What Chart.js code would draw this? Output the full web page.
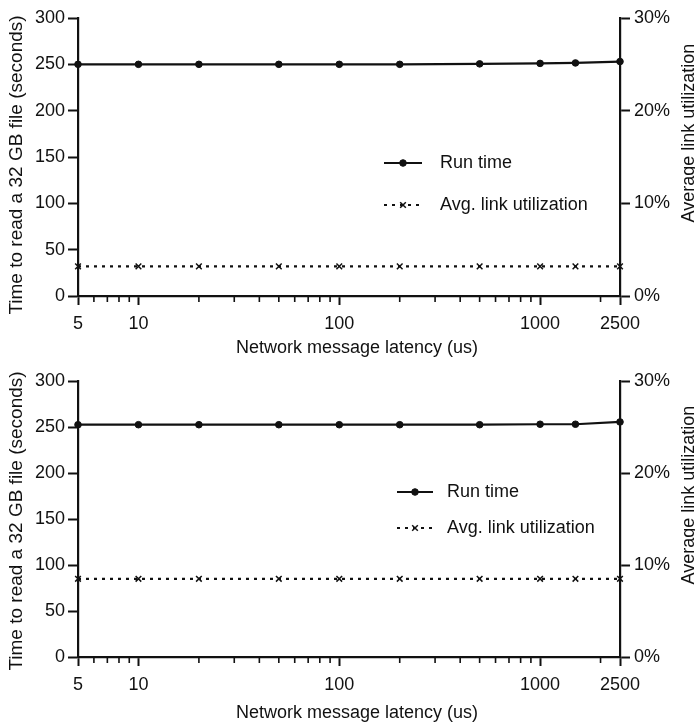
<!DOCTYPE html>
<html>
<head>
<meta charset="utf-8">
<script src="https://cdn.jsdelivr.net/npm/chart.js@4.4.1/dist/chart.umd.min.js"></script>
<style>
  html, body { margin: 0; padding: 0; background: #fff; }
  canvas { display: block; }
</style>
</head>
<body>
<canvas id="upper-chart" width="695" height="361"></canvas>
<canvas id="lower-chart" width="695" height="361"></canvas>
<script>
// latency values measured (us)
const latency = [5, 10, 20, 50, 100, 200, 500, 1000, 1500, 2500];
const latencyLabels = [5, 10, 100, 1000, 2500];
const latencyMinor = [6, 7, 8, 9, 20, 30, 40, 50, 60, 70, 80, 90, 200, 300, 400, 500, 600, 700, 800, 900, 2000];

// upper panel
const runTimeUpper = [250, 250, 250, 250, 250, 250, 250.5, 251, 251.5, 253];
const linkUtilUpper = [3.2, 3.2, 3.2, 3.2, 3.2, 3.2, 3.2, 3.2, 3.2, 3.2];

// lower panel
const runTimeLower = [252.5, 252.5, 252.5, 252.5, 252.5, 252.5, 252.5, 253, 253, 255.5];
const linkUtilLower = [8.5, 8.5, 8.5, 8.5, 8.5, 8.5, 8.5, 8.5, 8.5, 8.5];

const seriesNames = ['Run time', 'Avg. link utilization'];
const xTitle = 'Network message latency (us)';
const yTitle = 'Time to read a 32 GB file (seconds)';
const y2Title = 'Average link utilization';

const INK = '#111';
const FONT = "'Liberation Sans', Arial, Helvetica, sans-serif";
const PANEL_H = 361;
const AXIS_Y = 296; // plot bottom inside each canvas

// titles, minor ticks and the in-plot legend
const panelDecor = {
  id: 'panelDecor',
  afterDraw(chart, args, opts) {
    const ctx = chart.ctx;
    const area = chart.chartArea;
    const xs = chart.scales.x;
    const midY = (area.top + area.bottom) / 2;

    ctx.save();
    ctx.strokeStyle = INK;
    ctx.fillStyle = INK;

    // minor log ticks
    ctx.lineWidth = 1.6;
    ctx.beginPath();
    latencyMinor.forEach(v => {
      const px = xs.getPixelForValue(v);
      ctx.moveTo(px, area.bottom);
      ctx.lineTo(px, area.bottom + 6);
    });
    ctx.stroke();

    // axis titles
    ctx.textAlign = 'center';
    ctx.textBaseline = 'middle';
    ctx.font = '18px ' + FONT;
    ctx.fillText(xTitle, (area.left + area.right) / 2 + 8, area.bottom + opts.xTitleGap);

    ctx.save();
    ctx.translate(17, midY + opts.leftTitleShift);
    ctx.rotate(-Math.PI / 2);
    ctx.font = '19px ' + FONT;
    ctx.fillText(yTitle, 0, 0);
    ctx.restore();

    ctx.save();
    ctx.translate(689, midY + opts.rightTitleShift);
    ctx.rotate(-Math.PI / 2);
    ctx.font = '18px ' + FONT;
    ctx.fillText(y2Title, 0, 0);
    ctx.restore();

    // legend
    const lg = opts.legend;
    ctx.textAlign = 'left';
    ctx.font = '18px ' + FONT;
    chart.data.datasets.forEach((ds, i) => {
      const y = lg.rows[i];
      ctx.save();
      ctx.lineWidth = ds.borderWidth;
      ctx.setLineDash(ds.borderDash || []);
      ctx.beginPath();
      ctx.moveTo(lg.x0, y);
      ctx.lineTo(lg.x1, y);
      ctx.stroke();
      ctx.setLineDash([]);
      ctx.lineWidth = ds.pointBorderWidth;
      Chart.helpers.drawPoint(ctx, {
        pointStyle: ds.pointStyle,
        radius: ds.pointRadius,
        rotation: 0,
        borderWidth: ds.pointBorderWidth
      }, (lg.x0 + lg.x1) / 2, y);
      ctx.restore();
      ctx.fillText(ds.label, lg.textX, y);
    });

    ctx.restore();
  }
};

function buildPanel(canvasId, runTime, linkUtil, topPad, decor) {
  const ctx = document.getElementById(canvasId).getContext('2d');
  return new Chart(ctx, {
    type: 'line',
    data: {
      datasets: [
        {
          label: seriesNames[0],
          data: latency.map((x, i) => ({ x, y: runTime[i] })),
          yAxisID: 'y',
          borderColor: INK,
          backgroundColor: INK,
          borderWidth: 2.2,
          pointStyle: 'circle',
          pointRadius: 3.3,
          pointBorderWidth: 1,
          tension: 0,
          clip: false
        },
        {
          label: seriesNames[1],
          data: latency.map((x, i) => ({ x, y: linkUtil[i] })),
          yAxisID: 'util',
          borderColor: INK,
          backgroundColor: INK,
          borderWidth: 2.2,
          borderDash: [3, 5],
          pointStyle: 'crossRot',
          pointRadius: 4,
          pointBorderWidth: 1.5,
          tension: 0,
          clip: false
        }
      ]
    },
    options: {
      responsive: false,
      animation: false,
      devicePixelRatio: 1,
      layout: { padding: { top: topPad, left: 0, right: 0, bottom: 0 } },
      plugins: {
        legend: { display: false },
        tooltip: { enabled: false },
        panelDecor: decor
      },
      scales: {
        x: {
          type: 'logarithmic',
          min: 5,
          max: 2500,
          afterBuildTicks: s => { s.ticks = latencyLabels.map(v => ({ value: v })); },
          afterFit: s => { s.height = PANEL_H - AXIS_Y; },
          ticks: {
            color: INK,
            font: { family: FONT, size: 18 },
            padding: 8,
            autoSkip: false,
            maxRotation: 0,
            callback: v => String(v)
          },
          grid: { drawOnChartArea: false, drawTicks: true, tickLength: 9, tickWidth: 2, tickColor: INK },
          border: { display: true, color: INK, width: 2.2 }
        },
        y: {
          position: 'left',
          min: 0,
          max: 300,
          afterFit: s => { s.width = 78; },
          ticks: {
            stepSize: 50,
            color: INK,
            font: { family: FONT, size: 18 },
            padding: 3
          },
          grid: { drawOnChartArea: false, drawTicks: true, tickLength: 10, tickWidth: 2, tickColor: INK },
          border: { display: true, color: INK, width: 2.2 }
        },
        util: {
          position: 'right',
          min: 0,
          max: 30,
          afterFit: s => { s.width = 695 - 620; },
          ticks: {
            stepSize: 10,
            color: INK,
            font: { family: FONT, size: 18 },
            padding: 4,
            callback: v => v + '%'
          },
          grid: { drawOnChartArea: false, drawTicks: true, tickLength: 10, tickWidth: 2, tickColor: INK },
          border: { display: true, color: INK, width: 2.2 }
        }
      }
    },
    plugins: [panelDecor]
  });
}

buildPanel('upper-chart', runTimeUpper, linkUtilUpper, 18, {
  xTitleGap: 52,
  leftTitleShift: 8,
  rightTitleShift: -24,
  legend: { x0: 384, x1: 422, textX: 440, rows: [163, 205] }
});

buildPanel('lower-chart', runTimeLower, linkUtilLower, 20, {
  xTitleGap: 56,
  leftTitleShift: 2,
  rightTitleShift: -24,
  legend: { x0: 397, x1: 433, textX: 447, rows: [131, 167] }
});
</script>
</body>
</html>
